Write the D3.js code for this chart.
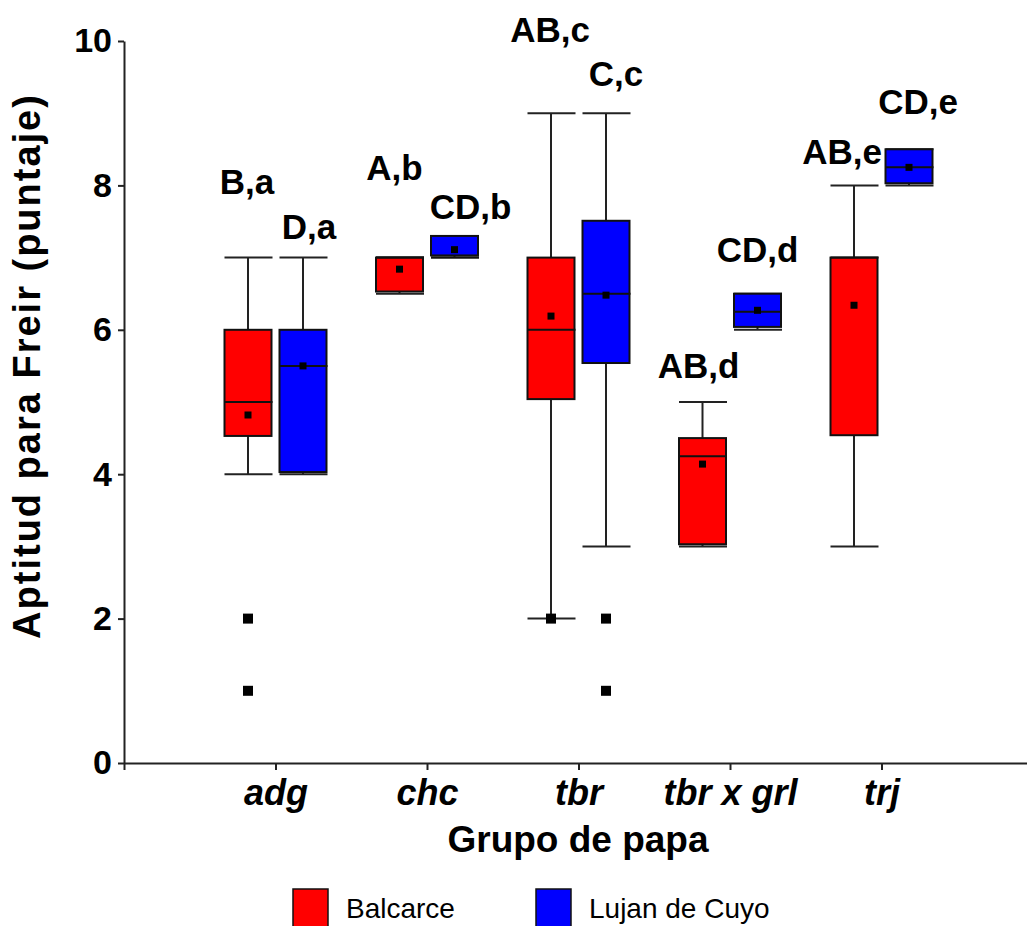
<!DOCTYPE html>
<html>
<head>
<meta charset="utf-8">
<script src="https://cdn.jsdelivr.net/npm/d3@7"></script>
<style>
  html, body { margin: 0; padding: 0; background: #fff; }
  svg { display: block; font-family: "Liberation Sans", Arial, sans-serif; }
</style>
</head>
<body>
<svg id="chart" width="1027" height="926"></svg>
<script>
// Potato groups and locations
const categories = ["adg", "chc", "tbr", "tbr x grl", "trj"];
const seriesNames = ["Balcarce", "Lujan de Cuyo"];
const seriesColors = ["#ff0000", "#0000ff"];
const yTicks = [0, 2, 4, 6, 8, 10];

// Balcarce box statistics
const balLow    = [4.0, 6.5, 2.0, 3.0, 3.0];
const balQ1     = [4.53, 6.53, 5.04, 3.03, 4.54];
const balMedian = [5.0, 7.0, 6.0, 4.25, 7.0];
const balQ3     = [6.0, 7.0, 7.0, 4.5, 7.0];
const balHigh   = [7.0, 7.0, 9.0, 5.0, 8.0];
const balMean   = [4.82, 6.84, 6.19, 4.14, 6.34];
const balOutliers = [[2, 1], [], [2], [], []];
const balLetters = ["B,a", "A,b", "AB,c", "AB,d", "AB,e"];
const balLetterY = [7.88, 8.07, 9.98, 5.33, 8.30];

// Lujan de Cuyo box statistics
const lujLow    = [4.0, 7.0, 3.0, 6.0, 8.0];
const lujQ1     = [4.03, 7.03, 5.54, 6.04, 8.03];
const lujMedian = [5.5, 7.0, 6.5, 6.25, 8.25];
const lujQ3     = [6.0, 7.3, 7.51, 6.5, 8.5];
const lujHigh   = [7.0, 7.3, 9.0, 6.5, 8.5];
const lujMean   = [5.5, 7.11, 6.48, 6.27, 8.25];
const lujOutliers = [[], [], [2, 1], [], []];
const lujLetters = ["D,a", "CD,b", "C,c", "CD,d", "CD,e"];
const lujLetterY = [7.26, 7.54, 9.37, 6.94, 8.99];

// horizontal nudges (px) for the letter annotations
const balLetterDx = [-1, -5, -1, -4, -12];
const lujLetterDx = [6, 16, 10, 0, 9];

const series = [
  { name: seriesNames[0], color: seriesColors[0], low: balLow, q1: balQ1, median: balMedian, q3: balQ3,
    high: balHigh, mean: balMean, outliers: balOutliers, letters: balLetters, letterY: balLetterY, letterDx: balLetterDx },
  { name: seriesNames[1], color: seriesColors[1], low: lujLow, q1: lujQ1, median: lujMedian, q3: lujQ3,
    high: lujHigh, mean: lujMean, outliers: lujOutliers, letters: lujLetters, letterY: lujLetterY, letterDx: lujLetterDx }
];

const svg = d3.select("#chart");
const x0 = 124, step = 151.5;
const x = d3.scaleLinear().domain([0, 6]).range([x0, x0 + 6 * step]);
const y = d3.scaleLinear().domain([0, 10]).range([763, 41]);
const offset = 27.5, boxW = 47;

// Axes
const yAxis = svg.append("g").attr("transform", `translate(${x0},0)`)
  .call(d3.axisLeft(y).tickValues(yTicks).tickSize(6).tickPadding(6).tickSizeOuter(0));
yAxis.select(".domain").attr("stroke", "#222").attr("stroke-width", 2);
yAxis.selectAll(".tick line").attr("stroke", "#222").attr("stroke-width", 2);
yAxis.selectAll(".tick text").attr("font-size", 34).attr("font-weight", "bold").attr("fill", "#000")
  .attr("font-family", "Liberation Sans, Arial, sans-serif");

const xAxis = svg.append("g").attr("transform", `translate(0,${y(0)})`)
  .call(d3.axisBottom(x).tickValues([0, 1, 2, 3, 4, 5])
    .tickFormat(d => d === 0 ? "" : categories[d - 1]).tickSize(7).tickPadding(9).tickSizeOuter(0));
xAxis.select(".domain").attr("stroke", "#222").attr("stroke-width", 2);
xAxis.selectAll(".tick line").attr("stroke", "#222").attr("stroke-width", 2);
xAxis.selectAll(".tick text").attr("font-size", 36).attr("font-weight", "bold").attr("font-style", "italic")
  .attr("fill", "#000").attr("font-family", "Liberation Sans, Arial, sans-serif");

// Boxes
series.forEach((s, si) => {
  const g = svg.append("g");
  const cx = i => x(i + 1) + (si === 0 ? -offset : offset);
  categories.forEach((c, i) => {
    const xc = cx(i);
    // whiskers
    g.append("line").attr("x1", xc).attr("x2", xc).attr("y1", y(s.high[i])).attr("y2", y(s.q3[i]))
      .attr("stroke", "#222").attr("stroke-width", 2);
    g.append("line").attr("x1", xc).attr("x2", xc).attr("y1", y(s.q1[i])).attr("y2", y(s.low[i]))
      .attr("stroke", "#222").attr("stroke-width", 2);
    g.append("line").attr("x1", xc - boxW / 2).attr("x2", xc + boxW / 2 + 1).attr("y1", y(s.high[i])).attr("y2", y(s.high[i]))
      .attr("stroke", "#222").attr("stroke-width", 2);
    g.append("line").attr("x1", xc - boxW / 2).attr("x2", xc + boxW / 2 + 1).attr("y1", y(s.low[i])).attr("y2", y(s.low[i]))
      .attr("stroke", "#222").attr("stroke-width", 2);
    // box
    g.append("rect").attr("x", xc - boxW / 2).attr("width", boxW)
      .attr("y", y(s.q3[i])).attr("height", Math.max(0, y(s.q1[i]) - y(s.q3[i])))
      .attr("fill", s.color).attr("stroke", "#111").attr("stroke-width", 2);
    // median
    g.append("line").attr("x1", xc - boxW / 2).attr("x2", xc + boxW / 2 + 1).attr("y1", y(s.median[i])).attr("y2", y(s.median[i]))
      .attr("stroke", "#111").attr("stroke-width", 2);
    // mean
    g.append("rect").attr("x", xc - 3.5).attr("y", y(s.mean[i]) - 3.5).attr("width", 7).attr("height", 7).attr("fill", "#000");
    // outliers
    s.outliers[i].forEach(v => {
      g.append("rect").attr("x", xc - 5).attr("y", y(v) - 5).attr("width", 10).attr("height", 10).attr("fill", "#000");
    });
    // letters
    svg.append("text").attr("x", xc + s.letterDx[i]).attr("y", y(s.letterY[i]))
      .attr("text-anchor", "middle").attr("font-size", 35).attr("font-weight", "bold").attr("fill", "#000")
      .text(s.letters[i]);
  });
});

// Axis titles
svg.append("text").attr("x", 578).attr("y", 852).attr("text-anchor", "middle")
  .attr("font-size", 37).attr("font-weight", "bold").text("Grupo de papa");
svg.append("text").attr("transform", "translate(40,366) rotate(-90)").attr("text-anchor", "middle")
  .attr("font-size", 38).attr("font-weight", "bold").attr("letter-spacing", 2)
  .text("Aptitud para Freir (puntaje)");

// Legend
const legendX = [293, 536];
series.forEach((s, si) => {
  svg.append("rect").attr("x", legendX[si]).attr("y", 889).attr("width", 35).attr("height", 40)
    .attr("fill", s.color).attr("stroke", "#111").attr("stroke-width", 1.5);
  svg.append("text").attr("x", legendX[si] + 53).attr("y", 918).attr("font-size", 28).attr("fill", "#000")
    .text(s.name);
});
</script>
</body>
</html>
